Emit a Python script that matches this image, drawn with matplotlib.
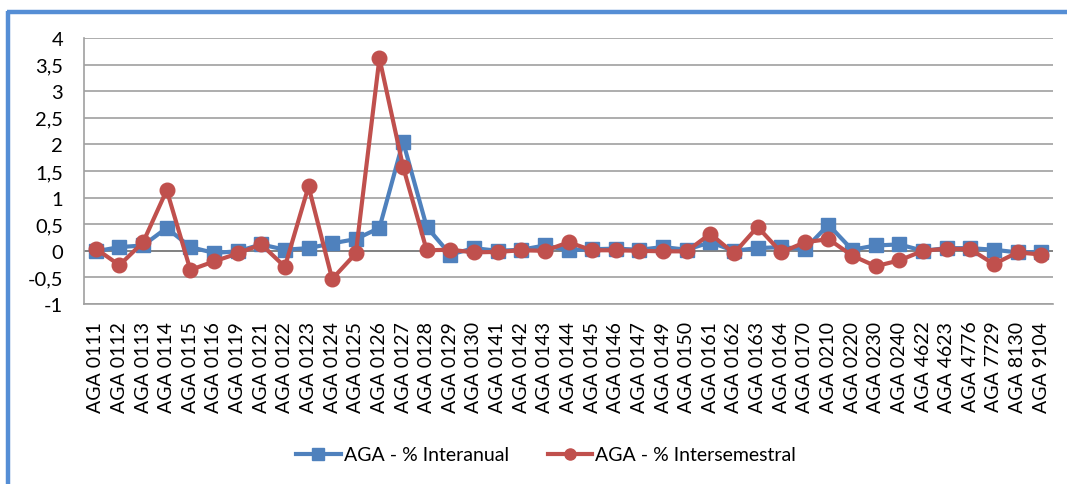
import matplotlib
matplotlib.use("Agg")
import matplotlib.pyplot as plt
from matplotlib.lines import Line2D

categories = ["AGA 0111", "AGA 0112", "AGA 0113", "AGA 0114", "AGA 0115", "AGA 0116",
              "AGA 0119", "AGA 0121", "AGA 0122", "AGA 0123", "AGA 0124", "AGA 0125",
              "AGA 0126", "AGA 0127", "AGA 0128", "AGA 0129", "AGA 0130", "AGA 0141",
              "AGA 0142", "AGA 0143", "AGA 0144", "AGA 0145", "AGA 0146", "AGA 0147",
              "AGA 0149", "AGA 0150", "AGA 0161", "AGA 0162", "AGA 0163", "AGA 0164",
              "AGA 0170", "AGA 0210", "AGA 0220", "AGA 0230", "AGA 0240", "AGA 4622",
              "AGA 4623", "AGA 4776", "AGA 7729", "AGA 8130", "AGA 9104"]

interanual = [-0.01, 0.07, 0.10, 0.43, 0.07, -0.04, -0.01, 0.12, 0.02, 0.05, 0.14, 0.22,
              0.43, 2.05, 0.45, -0.07, 0.05, 0.00, 0.02, 0.10, 0.01, 0.03, 0.04, 0.02,
              0.07, 0.02, 0.16, 0.00, 0.05, 0.07, 0.03, 0.49, 0.02, 0.10, 0.12, 0.00,
              0.05, 0.05, 0.02, -0.03, -0.02]

intersemestral = [0.04, -0.27, 0.16, 1.14, -0.36, -0.20, -0.05, 0.12, -0.30, 1.21, -0.53, -0.05,
                  3.62, 1.58, 0.01, 0.02, -0.03, -0.02, 0.01, 0.00, 0.16, 0.01, 0.01, 0.00,
                  -0.01, -0.01, 0.32, -0.05, 0.45, -0.03, 0.16, 0.22, -0.09, -0.29, -0.18, 0.00,
                  0.04, 0.03, -0.25, -0.03, -0.07]

yticks = [-1, -0.5, 0, 0.5, 1, 1.5, 2, 2.5, 3, 3.5, 4]
ytick_labels = ["-1", "-0,5", "0", "0,5", "1", "1,5", "2", "2,5", "3", "3,5", "4"]

series_names = ["AGA - % Interanual", "AGA - % Intersemestral"]

blue = "#4F81BD"
red = "#C0504D"

plt.rcParams['font.family'] = ['Lato', 'DejaVu Sans']

W, H = 1067, 485
fig = plt.figure(figsize=(W / 100, H / 100), dpi=100)

# outer blue frame (cropped at right and bottom)
fig.add_artist(Line2D([8 / W, 8 / W], [0, 1 - 12 / H], transform=fig.transFigure,
                      color="#558ED5", lw=3.2, solid_capstyle="butt"))
fig.add_artist(Line2D([6.5 / W, 1], [1 - 12.5 / H, 1 - 12.5 / H], transform=fig.transFigure,
                      color="#558ED5", lw=3.2, solid_capstyle="butt"))

left, right, top, bottom = 84, 1053, 39, 305
ax = fig.add_axes([left / W, 1 - bottom / H, (right - left) / W, (bottom - top) / H])

x = list(range(len(categories)))
ax.plot(x, interanual, color=blue, lw=3, marker="s", markersize=10, zorder=3,
        label=series_names[0])
ax.plot(x, intersemestral, color=red, lw=3, marker="o", markersize=10.5, zorder=4,
        label=series_names[1])

ax.set_xlim(-0.5, len(categories) - 0.5)
ax.set_ylim(-1, 4)
ax.set_yticks(yticks)
ax.set_yticklabels(ytick_labels, fontsize=14.5)
ax.set_xticks(x)
ax.set_xticklabels(categories, rotation=90, fontsize=14)
ax.tick_params(axis="both", length=0)
ax.tick_params(axis="y", pad=15)
ax.tick_params(axis="x", pad=12)

ax.grid(axis="y", color="#A0A0A0", lw=1.2)
ax.set_axisbelow(True)
for s in ["top", "right"]:
    ax.spines[s].set_visible(False)
ax.spines["left"].set_color("#A0A0A0")
ax.spines["bottom"].set_color("#A0A0A0")
ax.spines["left"].set_linewidth(1.2)
ax.spines["bottom"].set_linewidth(1.2)
ax.axhline(0, color="#808080", lw=1.3, zorder=2)

handles = [Line2D([], [], color=blue, lw=3, marker="s", markersize=8),
           Line2D([], [], color=red, lw=3, marker="o", markersize=8)]
fig.legend(handles, series_names, loc="center", bbox_to_anchor=(546 / W, 1 - 456 / H),
           ncol=2, frameon=False, fontsize=14, handlelength=2.3, columnspacing=2.0,
           handletextpad=0.15)

fig.savefig("out.png", dpi=100, facecolor="white")
